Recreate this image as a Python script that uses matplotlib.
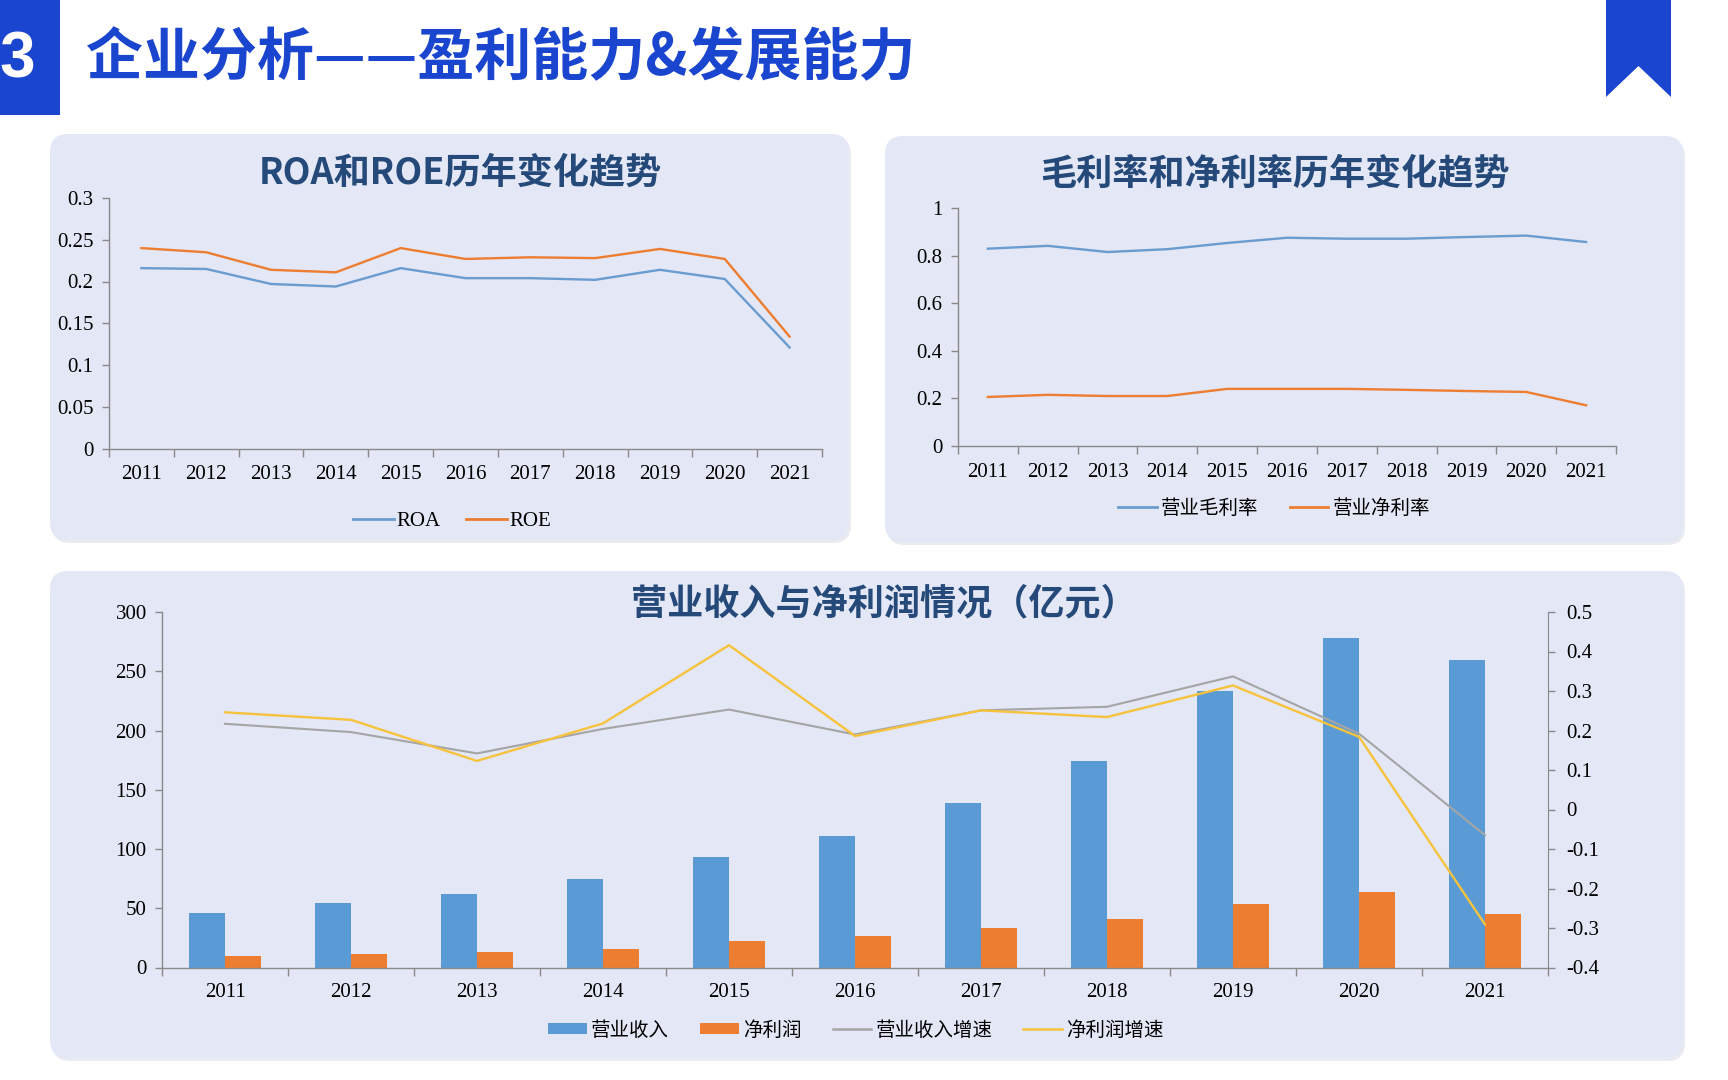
import numpy as np
import matplotlib
matplotlib.use("Agg")
import matplotlib.pyplot as plt
from matplotlib.patches import FancyBboxPatch, Rectangle, Polygon, Patch
from matplotlib.lines import Line2D
from matplotlib.ticker import FuncFormatter, FixedLocator

plt.rcParams['font.family'] = ['Liberation Serif', 'Noto Sans CJK SC', 'DejaVu Sans']

# ---------------- data ----------------
years = ['2011', '2012', '2013', '2014', '2015', '2016', '2017', '2018', '2019', '2020', '2021']
roa = [0.216, 0.215, 0.197, 0.194, 0.216, 0.204, 0.204, 0.202, 0.214, 0.203, 0.121]
roe = [0.240, 0.235, 0.214, 0.211, 0.240, 0.227, 0.229, 0.228, 0.239, 0.227, 0.134]
gross_margin = [0.829, 0.841, 0.815, 0.827, 0.853, 0.875, 0.871, 0.871, 0.878, 0.884, 0.857]
net_margin = [0.206, 0.215, 0.210, 0.210, 0.240, 0.240, 0.240, 0.236, 0.231, 0.227, 0.171]
revenue = [45.8, 54.5, 62.1, 74.5, 93.1, 110.8, 138.6, 174.0, 233.3, 277.8, 259.2]
net_profit = [9.8, 11.5, 13.2, 15.7, 22.5, 26.4, 33.2, 40.8, 53.7, 63.8, 45.0]
revenue_growth = [0.217, 0.196, 0.142, 0.204, 0.253, 0.190, 0.251, 0.260, 0.337, 0.192, -0.065]
profit_growth = [0.246, 0.227, 0.123, 0.218, 0.416, 0.186, 0.251, 0.234, 0.314, 0.184, -0.291]

header_title = '企业分析——盈利能力&发展能力'
title1 = 'ROA和ROE历年变化趋势'
title2 = '毛利率和净利率历年变化趋势'
title3 = '营业收入与净利润情况（亿元）'
legend1 = ['ROA', 'ROE']
legend2 = ['营业毛利率', '营业净利率']
legend3 = ['营业收入', '净利润', '营业收入增速', '净利润增速']

# ---------------- style ----------------
W, H = 1728, 1080
HEAD_BLUE = '#1a45cf'
PANEL = '#e3e7f6'
TITLE_C = '#254a7a'
BLUE = '#5b9bd5'
LBLUE = '#6a9ccf'
ORANGE = '#ed7d31'
GRAY = '#a5a5a5'
YELLOW = '#f7c23c'
AXC = '#8a8a8a'
CJK = ['Noto Sans CJK SC', 'DejaVu Sans']
SERIF = ['Liberation Serif', 'Noto Sans CJK SC']

fig = plt.figure(figsize=(W / 100, H / 100), dpi=100)
fig.patch.set_facecolor('white')

bg = fig.add_axes([0, 0, 1, 1])
bg.set_xlim(0, W)
bg.set_ylim(H, 0)
bg.axis('off')


def rect(l, t, r, b):
    return [l / W, 1 - b / H, (r - l) / W, (b - t) / H]


def panel(l, t, r, b, rad=18):
    sh = FancyBboxPatch((l + rad + 2, t + rad + 3), (r - l) - 2 * rad, (b - t) - 2 * rad,
                        boxstyle=f"round,pad={rad}", fc='#dcdee6', ec='none', alpha=0.6, zorder=1)
    bg.add_patch(sh)
    p = FancyBboxPatch((l + rad, t + rad), (r - l) - 2 * rad, (b - t) - 2 * rad,
                       boxstyle=f"round,pad={rad}", fc=PANEL, ec='none', zorder=2)
    bg.add_patch(p)


# header
bg.add_patch(Rectangle((0, 0), 60, 115, fc=HEAD_BLUE, ec='none'))
bg.text(17, 60, '3', color='white', fontsize=46, fontweight='bold', family='Liberation Sans',
        ha='center', va='center')
bg.text(86, 57, header_title, color=HEAD_BLUE, fontsize=41, fontweight='heavy', family=CJK,
        ha='left', va='center')
bg.add_patch(Polygon([(1606, 0), (1671, 0), (1671, 97), (1638.5, 66), (1606, 97)],
                     closed=True, fc=HEAD_BLUE, ec='none'))

panel(50, 134, 849, 540)
panel(885, 136, 1683, 542)
panel(50, 571, 1683, 1058)

bg.text(460, 173, title1, color=TITLE_C, fontsize=26, fontweight='bold', family=CJK,
        ha='center', va='center', zorder=5)
bg.text(1275, 174, title2, color=TITLE_C, fontsize=26, fontweight='bold', family=CJK,
        ha='center', va='center', zorder=5)
bg.text(884, 604, title3, color=TITLE_C, fontsize=26, fontweight='bold', family=CJK,
        ha='center', va='center', zorder=5)


def gfmt(v, pos=None):
    s = f"{v:.2f}".rstrip('0').rstrip('.')
    if s in ('-0', ''):
        s = '0'
    return s


def style_cat_axis(ax, n):
    ax.set_facecolor('none')
    ax.set_xlim(-0.5, n - 0.5)
    ax.xaxis.set_major_locator(FixedLocator(np.arange(-0.5, n, 1.0)))
    ax.xaxis.set_minor_locator(FixedLocator(np.arange(n)))
    ax.set_xticklabels([], minor=False)
    ax.set_xticklabels(years, minor=True)
    ax.tick_params(axis='x', which='major', length=6, width=1, color=AXC, direction='out')
    ax.tick_params(axis='x', which='minor', length=0, pad=12, labelsize=15)
    ax.tick_params(axis='y', length=5, width=1, color=AXC, direction='out', pad=6, labelsize=15)
    ax.yaxis.set_major_formatter(FuncFormatter(gfmt))
    for s in ('top', 'right'):
        ax.spines[s].set_visible(False)
    for s in ('left', 'bottom'):
        ax.spines[s].set_color(AXC)
        ax.spines[s].set_linewidth(1)


x = np.arange(len(years))

# ---- top-left ----
ax1 = fig.add_axes(rect(109, 198, 822, 448.5))
ax1.plot(x, roa, color=LBLUE, lw=1.7, label=legend1[0])
ax1.plot(x, roe, color=ORANGE, lw=1.7, label=legend1[1])
ax1.set_ylim(0, 0.3)
ax1.set_yticks(np.arange(0, 0.3001, 0.05))
style_cat_axis(ax1, len(years))
h1 = [Line2D([], [], color=LBLUE, lw=2), Line2D([], [], color=ORANGE, lw=2)]
fig.legend(h1, legend1, loc='center', bbox_to_anchor=(452 / W, 1 - 521 / H), ncol=2,
           frameon=False, prop={'family': SERIF, 'size': 15}, handlelength=2.0,
           handletextpad=0.1, columnspacing=1.2)

# ---- top-right ----
ax2 = fig.add_axes(rect(958, 208, 1616, 446))
ax2.plot(x, gross_margin, color=LBLUE, lw=1.7)
ax2.plot(x, net_margin, color=ORANGE, lw=1.7)
ax2.set_ylim(0, 1)
ax2.set_yticks(np.arange(0, 1.001, 0.2))
style_cat_axis(ax2, len(years))
fig.legend(h1, legend2, loc='center', bbox_to_anchor=(1274 / W, 1 - 508 / H), ncol=2,
           frameon=False, prop={'family': CJK, 'size': 14}, handlelength=2.0,
           handletextpad=0.2, columnspacing=1.6)

# ---- bottom ----
ax3 = fig.add_axes(rect(162, 612, 1548, 967.5))
bw = 0.286
ax3.bar(x - bw / 2, revenue, width=bw, color=BLUE, zorder=2)
ax3.bar(x + bw / 2, net_profit, width=bw, color=ORANGE, zorder=2)
ax3.set_ylim(0, 300)
ax3.set_yticks(np.arange(0, 301, 50))
style_cat_axis(ax3, len(years))
ax3.tick_params(axis='x', which='minor', pad=11)

ax4 = ax3.twinx()
ax4.set_facecolor('none')
ax4.plot(x, revenue_growth, color=GRAY, lw=1.5)
ax4.plot(x, profit_growth, color=YELLOW, lw=1.7)
ax4.set_ylim(-0.4, 0.5)
ax4.set_yticks(np.round(np.arange(-0.4, 0.501, 0.1), 2))
ax4.yaxis.set_major_formatter(FuncFormatter(gfmt))
ax4.tick_params(axis='y', length=5, width=1, color=AXC, direction='out', pad=8, labelsize=15)
for s in ('top', 'left', 'bottom'):
    ax4.spines[s].set_visible(False)
ax4.spines['right'].set_color(AXC)

h3 = [Patch(fc=BLUE, ec='none'), Patch(fc=ORANGE, ec='none'),
      Line2D([], [], color=GRAY, lw=1.8), Line2D([], [], color=YELLOW, lw=1.8)]
fig.legend(h3, legend3, loc='center', bbox_to_anchor=(856 / W, 1 - 1030 / H), ncol=4,
           frameon=False, prop={'family': CJK, 'size': 14}, handlelength=2.0,
           handleheight=0.5, handletextpad=0.2, columnspacing=1.6)

fig.savefig('out.png', dpi=100, facecolor='white')
